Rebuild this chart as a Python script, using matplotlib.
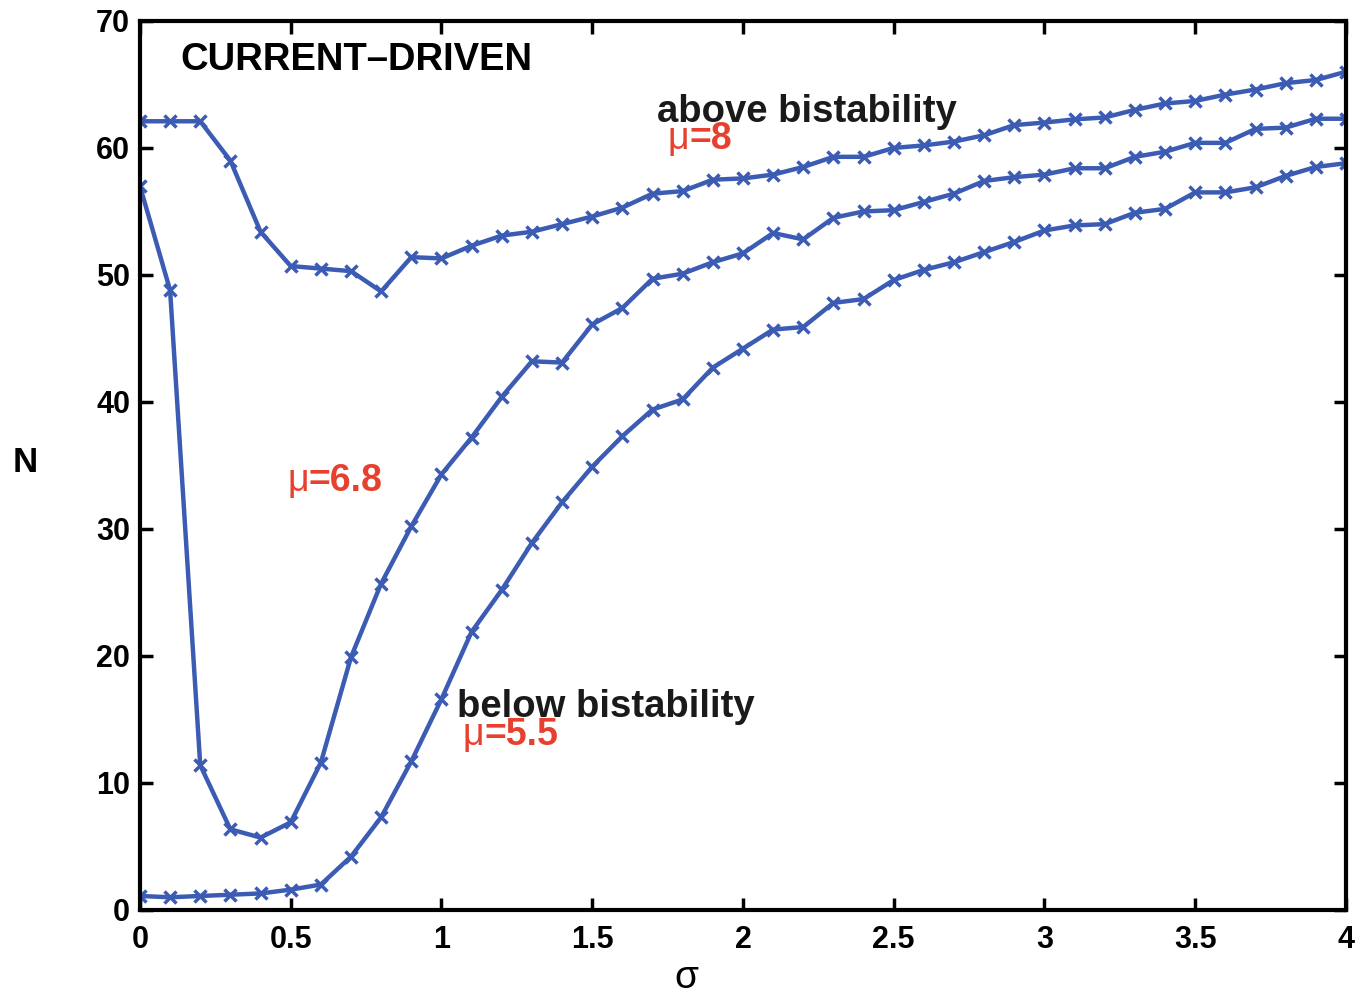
import matplotlib
matplotlib.use("Agg")
import matplotlib.pyplot as plt
from matplotlib.ticker import MultipleLocator, FormatStrFormatter

# sigma grid (step 0.1)
sigma = [0.0, 0.1, 0.2, 0.3, 0.4, 0.5, 0.6, 0.7, 0.8, 0.9,
         1.0, 1.1, 1.2, 1.3, 1.4, 1.5, 1.6, 1.7, 1.8, 1.9,
         2.0, 2.1, 2.2, 2.3, 2.4, 2.5, 2.6, 2.7, 2.8, 2.9,
         3.0, 3.1, 3.2, 3.3, 3.4, 3.5, 3.6, 3.7, 3.8, 3.9, 4.0]

# N for mu = 8 (above bistability)
n_mu8 = [62.1, 62.1, 62.1, 59.0, 53.4, 50.7, 50.5, 50.3, 48.7, 51.4,
         51.3, 52.3, 53.1, 53.4, 54.0, 54.6, 55.3, 56.4, 56.6, 57.5,
         57.6, 57.9, 58.5, 59.3, 59.3, 60.0, 60.2, 60.5, 61.0, 61.8,
         62.0, 62.25, 62.4, 63.0, 63.5, 63.7, 64.2, 64.6, 65.1, 65.35, 66.0]

# N for mu = 6.8
n_mu68 = [57.0, 48.8, 11.4, 6.35, 5.7, 6.9, 11.6, 19.9, 25.7, 30.2,
          34.3, 37.2, 40.4, 43.2, 43.1, 46.1, 47.4, 49.7, 50.1, 51.0,
          51.7, 53.3, 52.8, 54.5, 55.0, 55.1, 55.75, 56.4, 57.4, 57.7,
          57.9, 58.4, 58.4, 59.3, 59.7, 60.4, 60.4, 61.5, 61.6, 62.3, 62.3]

# N for mu = 5.5 (below bistability)
n_mu55 = [1.1, 1.0, 1.1, 1.2, 1.3, 1.6, 2.0, 4.2, 7.3, 11.7,
          16.6, 21.9, 25.2, 28.9, 32.1, 34.9, 37.3, 39.4, 40.2, 42.7,
          44.2, 45.7, 45.9, 47.8, 48.1, 49.6, 50.4, 51.0, 51.8, 52.6,
          53.5, 53.9, 54.0, 54.9, 55.2, 56.5, 56.5, 56.9, 57.8, 58.5, 58.8]

blue = '#3c5cb4'
red = '#e8402e'
plt.rcParams['font.family'] = ['Liberation Sans', 'DejaVu Sans']

fig = plt.figure(figsize=(13.56, 9.97), dpi=100)
ax = fig.add_axes([0.1032, 0.0873, 0.8894, 0.8917])

for n in (n_mu8, n_mu68, n_mu55):
    ax.plot(sigma, n, color=blue, lw=3.2, marker='x', ms=9, mew=2.5)

ax.set_xlim(0, 4)
ax.set_ylim(0, 70)
ax.xaxis.set_major_locator(MultipleLocator(0.5))
ax.yaxis.set_major_locator(MultipleLocator(10))
ax.xaxis.set_major_formatter(FormatStrFormatter('%g'))
ax.yaxis.set_major_formatter(FormatStrFormatter('%g'))
ax.tick_params(direction='in', length=9, width=2.5, top=True, right=True,
               labelsize=22)
ax.tick_params(axis='x', pad=11)
ax.tick_params(axis='y', pad=7)
for lab in ax.get_xticklabels() + ax.get_yticklabels():
    lab.set_fontweight('bold')
for sp in ax.spines.values():
    sp.set_linewidth(3)

ax.set_ylabel('N', fontsize=25, fontweight='bold', rotation=0,
              va='center', ha='center')
ax.yaxis.set_label_coords(-0.095, 0.503)
ax.set_xlabel('σ', fontsize=28, va='center')
ax.xaxis.set_label_coords(0.453, -0.077)

ax.text(0.133, 66.9, 'CURRENT\u2013DRIVEN', fontsize=27.5, fontweight='bold',
        va='center', ha='left')
ax.text(1.715, 62.8, 'above bistability', fontsize=27.5, fontweight='bold',
        va='center', ha='left', color='#1a1a1a')
ax.text(1.051, 16.0, 'below bistability', fontsize=27.5, fontweight='bold',
        va='center', ha='left', color='#1a1a1a')


def mu_label(x, y, rest):
    t = ax.text(x, y, 'μ', fontsize=27, color=red, va='center', ha='left')
    ax.annotate(rest, xy=(1, 0), xycoords=t, va='bottom', ha='left',
                fontsize=27, fontweight='bold', color=red)


mu_label(1.75, 60.7, '=8')
mu_label(0.488, 33.8, '=6.8')
mu_label(1.071, 13.8, '=5.5')

fig.savefig('out.png', dpi=100)
